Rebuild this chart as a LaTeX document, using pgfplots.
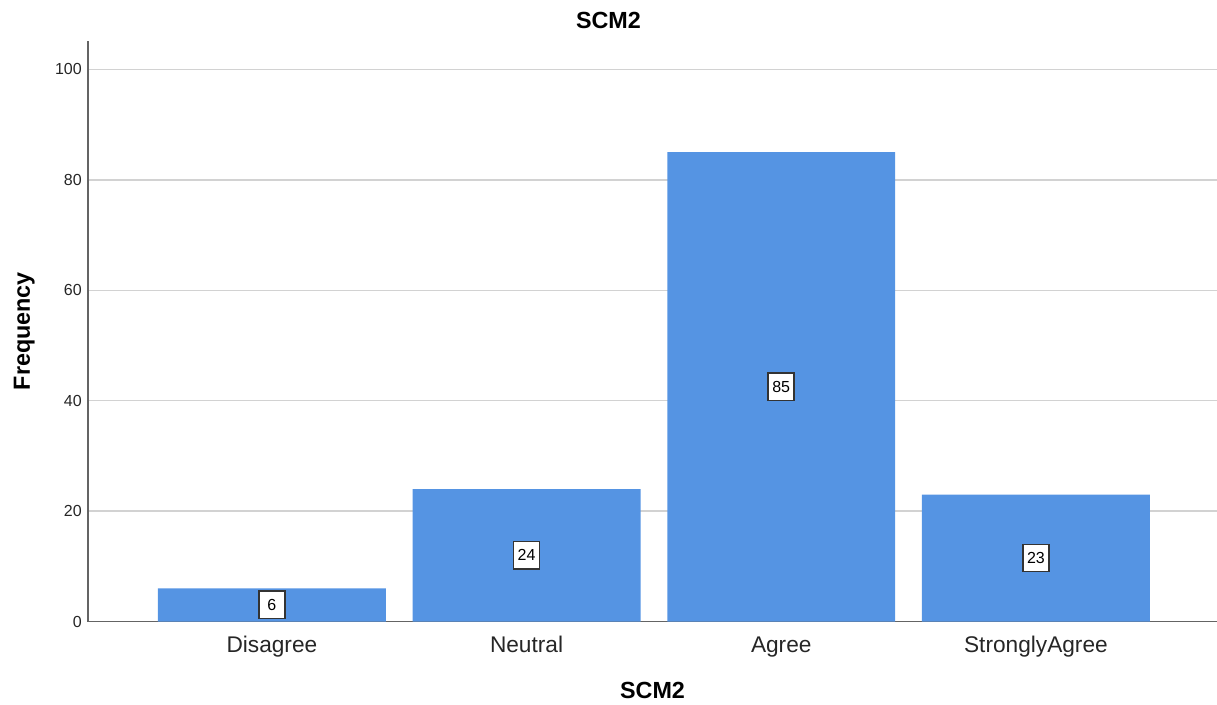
\documentclass[border=0pt]{standalone}
\usepackage{pgfplots}
\pgfplotsset{compat=1.18}
\usepackage{fontspec}
\setmainfont{Liberation Sans}
\definecolor{barblue}{RGB}{85,148,227}
\definecolor{gridgray}{RGB}{210,210,210}
\definecolor{axisgray}{RGB}{100,100,100}
\begin{document}
\begin{tikzpicture}
\begin{axis}[
  scale only axis,
  width=846.75pt, height=435.6pt,
  xmin=-0.722, xmax=3.711,
  ymin=0, ymax=105.2,
  ybar, bar width=0.895,
  xtick={0,1,2,3},
  xticklabels={Disagree,Neutral,Agree,StronglyAgree},
  ytick={0,20,40,60,80,100},
  major tick length=0pt,
  axis x line*=bottom, axis y line*=left,
  axis line style={-, draw=axisgray, line width=1.1pt},
  ymajorgrids, grid style={gridgray, line width=1.1pt},
  /pgf/number format/assume math mode=true,
  yticklabel style={font=\fontsize{12}{14}\selectfont, color=black!85, inner sep=0pt, anchor=east, xshift=-4.5pt},
  xticklabel style={font=\fontsize{17}{20}\selectfont, color=black!85, inner sep=0pt, anchor=north, yshift=-11pt},
  every axis title shift=0pt,
  title={\textbf{SCM2}},
  title style={font=\fontsize{17.5}{20}\selectfont, at={(axis description cs:0.461,1.0356)}, anchor=center, inner sep=0pt},
  xlabel={\textbf{SCM2}},
  xlabel style={font=\fontsize{17.5}{20}\selectfont, at={(axis description cs:0.5,-0.118)}, anchor=center, inner sep=0pt},
  ylabel={\textbf{Frequency}},
  ylabel style={font=\fontsize{17.5}{20}\selectfont, at={(axis description cs:-0.0565,0.5)}, anchor=center, rotate=0, inner sep=0pt},
  visualization depends on={y \as \rawy},
  nodes near coords,
  nodes near coords style={font=\fontsize{12}{14}\selectfont, fill=white, draw=black!80, line width=1.2pt, inner sep=0pt, minimum width=19.5pt, minimum height=20.5pt, anchor=center, shift={(axis direction cs:0,-\rawy/2)}},
]
\addplot[fill=barblue, draw=none] coordinates {(0,6) (1,24) (2,85) (3,23)};
\end{axis}
\pgfresetboundingbox
\path (-66pt,-61.875pt) rectangle (846.75pt,466.125pt);
\end{tikzpicture}
\end{document}
